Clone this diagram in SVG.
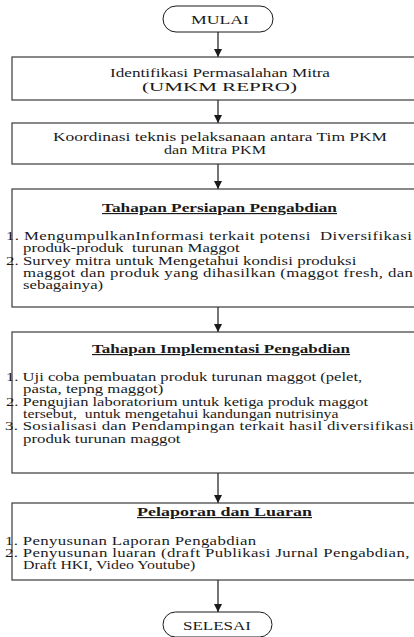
<svg xmlns="http://www.w3.org/2000/svg" width="414" height="637" viewBox="0 0 414 637">
<style>
  .box { fill: #ffffff; stroke: #3a3a3a; stroke-width: 1.2; }
  .term { fill: #ffffff; stroke: #1a1a1a; stroke-width: 1; }
  .t { font-family: "Liberation Serif", "Times New Roman", serif; font-size: 11.5px; fill: #1a1a1a; }
  .h { font-weight: bold; text-decoration: underline; }
  .c { stroke: #1a1a1a; stroke-width: 1.2; fill: none; marker-end: url(#arr); }
</style>
<defs>
  <marker id="arr" viewBox="0 0 8 8" refX="8" refY="4" markerWidth="8" markerHeight="8" markerUnits="userSpaceOnUse" orient="auto">
    <path d="M0,0 L8,4 L0,8 z" fill="#1a1a1a"/>
  </marker>
</defs>
<rect width="414" height="637" fill="#ffffff"/>
<g id="connectors">
  <line class="c" x1="218" y1="32" x2="218" y2="57"/>
  <line class="c" x1="218" y1="100" x2="218" y2="123"/>
  <line class="c" x1="218" y1="164" x2="218" y2="189"/>
  <line class="c" x1="218" y1="307" x2="218" y2="332"/>
  <line class="c" x1="218" y1="473" x2="218" y2="503"/>
  <line class="c" x1="218" y1="580" x2="218" y2="612"/>
</g>
<g id="mulai">
  <rect class="term" x="163" y="6" width="110" height="26" rx="13" ry="13"/>
  <text class="t" x="191" y="24" textLength="58" lengthAdjust="spacingAndGlyphs">MULAI</text>
</g>
<g id="identifikasi">
  <rect class="box" x="12" y="57" width="420" height="43"/>
  <text class="t" x="110" y="77" textLength="220" lengthAdjust="spacingAndGlyphs">Identifikasi Permasalahan Mitra</text>
  <text class="t" x="142" y="91" textLength="155" lengthAdjust="spacingAndGlyphs">(UMKM REPRO)</text>
</g>
<g id="koordinasi">
  <rect class="box" x="12" y="123" width="420" height="41"/>
  <text class="t" x="53" y="141" textLength="334" lengthAdjust="spacingAndGlyphs">Koordinasi teknis pelaksanaan antara Tim PKM</text>
  <text class="t" x="164" y="154" textLength="102" lengthAdjust="spacingAndGlyphs">dan Mitra PKM</text>
</g>
<g id="persiapan">
  <rect class="box" x="12" y="189" width="420" height="118"/>
  <text class="t h" x="102" y="212" textLength="235" lengthAdjust="spacingAndGlyphs">Tahapan Persiapan Pengabdian</text>
  <g transform="scale(1.46 1)">
    <text class="t" x="4.1" y="240" xml:space="preserve" textLength="278" lengthAdjust="spacing">1. MengumpulkanInformasi terkait potensi  Diversifikasi</text>
    <text class="t" x="15.8" y="252.5" xml:space="preserve">produk-produk  turunan Maggot</text>
    <text class="t" x="4.1" y="265" textLength="240" lengthAdjust="spacing">2. Survey mitra untuk Mengetahui kondisi produksi</text>
    <text class="t" x="15.8" y="277" textLength="267" lengthAdjust="spacing">maggot dan produk yang dihasilkan (maggot fresh, dan</text>
    <text class="t" x="15.8" y="289">sebagainya)</text>
  </g>
</g>
<g id="implementasi">
  <rect class="box" x="12" y="332" width="420" height="141"/>
  <text class="t h" x="92" y="353" textLength="258" lengthAdjust="spacingAndGlyphs">Tahapan Implementasi Pengabdian</text>
  <g transform="scale(1.46 1)">
    <text class="t" x="4.1" y="381" textLength="244" lengthAdjust="spacingAndGlyphs">1. Uji coba pembuatan produk turunan maggot (pelet,</text>
    <text class="t" x="15.8" y="393">pasta, tepng maggot)</text>
    <text class="t" x="4.1" y="406" textLength="248" lengthAdjust="spacingAndGlyphs">2. Pengujian laboratorium untuk ketiga produk maggot</text>
    <text class="t" x="15.8" y="418" xml:space="preserve" textLength="216" lengthAdjust="spacingAndGlyphs">tersebut,  untuk mengetahui kandungan nutrisinya</text>
    <text class="t" x="3.4" y="430" textLength="280" lengthAdjust="spacing">3. Sosialisasi dan Pendampingan terkait hasil diversifikasi</text>
    <text class="t" x="15.8" y="443">produk turunan maggot</text>
  </g>
</g>
<g id="pelaporan">
  <rect class="box" x="12" y="503" width="420" height="77"/>
  <text class="t h" x="137" y="516" textLength="175" lengthAdjust="spacingAndGlyphs">Pelaporan dan Luaran</text>
  <g transform="scale(1.46 1)">
    <text class="t" x="3.4" y="545" textLength="172" lengthAdjust="spacing">1. Penyusunan Laporan Pengabdian</text>
    <text class="t" x="3.4" y="557" textLength="277" lengthAdjust="spacing">2. Penyusunan luaran (draft Publikasi Jurnal Pengabdian,</text>
    <text class="t" x="15.8" y="569" textLength="118" lengthAdjust="spacingAndGlyphs">Draft HKI, Video Youtube)</text>
  </g>
</g>
<g id="selesai">
  <rect class="term" x="163" y="612" width="109" height="25" rx="12.5" ry="12.5"/>
  <text class="t" x="183" y="630" textLength="68" lengthAdjust="spacingAndGlyphs">SELESAI</text>
</g>
</svg>
